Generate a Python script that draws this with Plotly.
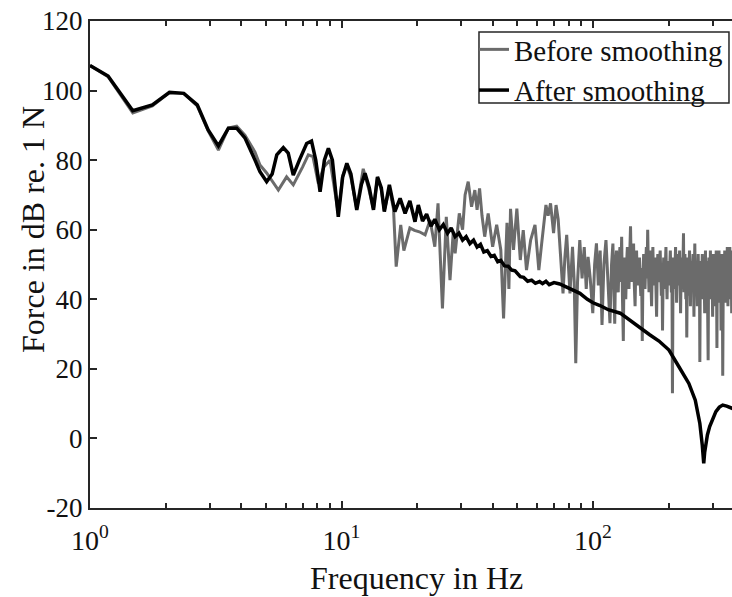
import plotly.graph_objects as go

# ---- data (frequency in Hz, level in dB re. 1 N) ----
before_f = [1.0, 1.18, 1.48, 1.77, 2.07, 2.36, 2.67, 2.95, 3.24, 3.55, 3.83, 4.13, 4.53, 4.74, 5.04,
            5.3, 5.61, 6.05, 6.43, 7.0, 7.38, 7.7, 8.09, 8.5, 9.0, 9.71, 10.1, 10.5, 10.9, 11.5, 12.2,
            12.8, 13.4, 13.9, 14.4, 14.8, 15.5, 16.1, 16.5, 17.2, 17.7, 18.7, 19.5, 20.4, 21.5, 22.5,
            23.5, 24.2, 25.2, 26.1, 27.0, 27.8, 28.3, 29.4, 30.3, 31.0, 31.9, 32.9, 33.9, 34.6, 35.4,
            36.2, 37.1, 38.3, 39.9, 41.4, 43.0, 44.1, 45.5, 46.3, 47.0, 48.3, 49.8, 51.4, 52.8, 54.4,
            56.5, 58.8, 60.9, 62.5, 64.0, 65.0, 66.3, 67.8, 69.7, 71.3, 72.7, 74.0, 76.0, 77.3, 78.6,
            81.0, 82.9, 84.2, 85.4, 86.8, 88.6, 90.5, 92.3, 94.0, 95.6, 97.5, 99.8, 101.5, 103.2, 105.0,
            106.8, 108.6, 110.5, 112.6, 114.5, 116.8, 118.5,
            120, 121, 122, 123, 124, 125, 126, 127, 128, 129,
            130, 131, 132, 133, 134, 135, 136, 137, 138, 139,
            140, 141, 142, 143, 144, 145, 146, 147, 148, 149,
            150, 151, 152, 153, 154, 155, 156, 157, 158, 159,
            160, 161, 162, 163, 164, 165, 166, 167, 168, 169,
            170, 171, 172, 173, 174, 175, 176, 177, 178, 179,
            180, 181, 182, 183, 184, 185, 186, 187, 188, 189,
            190, 191, 192, 193, 194, 195, 196, 197, 198, 199,
            200, 201, 202, 203, 204, 205, 206, 207, 208, 209,
            210, 211, 212, 213, 214, 215, 216, 217, 218, 219,
            220, 221, 222, 223, 224, 225, 226, 227, 228, 229,
            230, 231, 232, 233, 234, 235, 236, 237, 238, 239,
            240, 241, 242, 243, 244, 245, 246, 247, 248, 249,
            250, 251, 252, 253, 254, 255, 256, 257, 258, 259,
            260, 261, 262, 263, 264, 265, 266, 267, 268, 269,
            270, 271, 272, 273, 274, 275, 276, 277, 278, 279,
            280, 281, 282, 283, 284, 285, 286, 287, 288, 289,
            290, 291, 292, 293, 294, 295, 296, 297, 298, 299,
            300, 301, 302, 303, 304, 305, 306, 307, 308, 309,
            310, 311, 312, 313, 314, 315, 316, 317, 318, 319,
            320, 321, 322, 323, 324, 325, 326, 327, 328, 329,
            330, 331, 332, 333, 334, 335, 336, 337, 338, 339,
            340, 341, 342, 343, 344, 345, 346, 347, 348, 349,
            350, 351, 352, 353, 354, 355, 356, 357, 358, 359,
            360, 361, 362]
before_db = [107.2, 104.0, 93.6, 95.6, 99.4, 99.2, 95.6, 88.4, 82.9, 89.2, 89.8, 87.2, 82.3, 78.6, 76.3,
             74.0, 71.4, 75.2, 72.9, 78.0, 81.5, 81.0, 73.3, 78.0, 80.0, 64.7, 75.5, 78.5, 75.0, 66.0, 77.5,
             72.0, 66.0, 75.0, 71.5, 65.5, 72.0, 66.0, 49.4, 61.4, 54.0, 60.5, 59.8, 59.4, 58.5, 62.8,
             55.1, 67.6, 37.4, 63.7, 45.5, 59.0, 53.2, 64.7, 60.0, 70.0, 73.8, 66.6, 71.4, 65.7, 71.9,
             64.0, 58.0, 64.7, 55.1, 61.4, 54.2, 34.5, 62.0, 43.0, 66.0, 54.2, 66.1, 51.3, 59.9, 48.4,
             57.0, 61.4, 48.4, 56.0, 62.0, 67.1, 64.0, 67.6, 59.0, 67.1, 63.0, 55.0, 41.7, 52.0, 58.5,
             41.7, 55.1, 45.0, 21.6, 45.0, 57.0, 46.0, 55.0, 43.0, 52.2, 46.0, 36.0, 50.0, 56.1, 44.0,
             54.0, 32.6, 50.0, 57.0, 44.0, 33.1, 50.0,
             56, 44, 33, 50, 54, 47, 42, 52, 55, 45,
             58, 40, 28, 52, 46, 40, 50, 55, 47, 43,
             53, 61, 48, 45, 52, 56, 44, 38, 50, 54,
             46, 44, 51, 52, 45, 41, 49, 28, 47, 53,
             48, 43, 50, 55, 46, 60, 49, 42, 51, 54,
             45, 38, 49, 55, 47, 44, 50, 52, 43, 35,
             48, 53, 46, 45, 51, 54, 47, 41, 48, 31,
             46, 52, 47, 43, 50, 55, 46, 40, 49, 51,
             45, 44, 50, 54, 47, 42, 48, 13, 45, 52,
             48, 43, 50, 55, 46, 39, 48, 53, 47, 44,
             50, 54, 45, 36, 47, 52, 48, 43, 51, 59,
             42, 48, 53, 46, 40, 47, 29, 46, 52, 47,
             41, 49, 54, 46, 38, 47, 51, 48, 43, 50,
             53, 45, 35, 48, 56, 47, 42, 49, 50, 44,
             38, 47, 53, 46, 41, 48, 22, 45, 51, 46,
             40, 48, 53, 47, 43, 49, 50, 44, 36, 47,
             54, 46, 42, 49, 51, 45, 39, 22.5, 46, 52,
             47, 41, 49, 54, 46, 40, 48, 51, 44, 35,
             47, 53, 46, 43, 49, 52, 45, 38, 47, 54,
             44, 26, 47, 52, 46, 42, 49, 54, 45, 39,
             47, 52, 44, 31, 48, 53, 46, 42, 18, 45,
             52, 47, 41, 49, 54, 45, 39, 47, 52, 46,
             43, 50, 55, 46, 38, 48, 53, 47, 42, 50,
             55, 45, 40, 48, 54, 46, 36, 47, 52, 44,
             50, 42, 51]

after_f = [1.0, 1.18, 1.48, 1.77, 2.07, 2.36, 2.67, 2.95, 3.24, 3.55, 3.83, 4.13, 4.53, 4.74, 5.04,
           5.3, 5.53, 5.87, 6.14, 6.43, 6.8, 7.27, 7.6, 7.9, 8.22, 8.55, 8.87, 9.2, 9.71, 10.1, 10.5,
           10.9, 11.5, 12.0, 12.4, 12.9, 13.4, 13.9, 14.4, 14.8, 15.5, 16.3, 17.1, 17.9, 18.7, 19.6,
           20.2, 21.0, 21.8, 22.7, 23.5, 24.5, 25.4, 26.4, 27.3, 28.3, 29.3, 30.3, 31.3, 32.4, 33.5,
           34.6, 35.7, 36.8, 38.0, 39.3, 40.5, 41.8, 43.0, 44.5, 46.0, 47.5, 49.0, 51.4, 53.0, 55.0,
           57.0, 59.0, 61.3, 63.0, 65.0, 67.0, 70.0, 73.7, 77.0, 80.0, 84.0, 88.7, 95.0, 100.0, 106.6,
           115.0, 128.3, 140.0, 152.9, 168.0, 183.0, 200.5, 219.6, 240.5, 255.1, 266.0, 272.0, 275.6,
           278.0, 280.0, 285.0, 291.0, 300.0, 308.0, 318.0, 328.0, 340.0, 358.0, 362.0]
after_db = [107.2, 104.2, 94.2, 95.9, 99.5, 99.2, 95.9, 88.7, 84.1, 89.2, 89.2, 86.4, 80.0, 76.7, 73.8,
            76.0, 81.5, 83.6, 82.0, 75.7, 80.0, 84.8, 85.5, 80.0, 70.9, 80.0, 83.4, 80.0, 63.7, 75.0, 79.1,
            76.0, 65.7, 73.0, 76.2, 72.0, 65.7, 75.2, 72.0, 65.2, 72.9, 65.2, 69.0, 64.7, 68.3, 62.3,
            67.1, 62.5, 64.5, 61.0, 63.0, 60.0, 61.5, 59.0, 60.5, 58.0, 59.0, 57.0, 58.0, 56.0, 57.0,
            55.0, 55.8, 53.6, 54.0, 52.3, 52.6, 50.8, 51.2, 49.6, 49.5, 48.4, 48.2, 46.5, 46.3, 45.2,
            45.5, 44.6, 45.1, 44.5, 45.2, 44.2, 44.8, 44.4, 43.8, 43.3, 42.5, 41.7, 40.0, 39.0, 38.2,
            37.0, 36.0, 34.0, 31.7, 29.8, 28.0, 25.4, 20.6, 15.8, 11.0, 4.3, -2.0, -7.2,
            -4.0, -2.4, 1.0, 3.4, 6.0, 7.7, 9.0, 9.6, 9.3, 8.6, 8.5]

x_tickvals = [1, 10, 100]
x_ticktext = ["10<sup>0</sup>", "10<sup>1</sup>", "10<sup>2</sup>"]
y_tickvals = [-20, 0, 20, 40, 60, 80, 100, 120]
y_ticktext = ["-20", "0", "20", "40", "60", "80", "100", "120"]

FONT = "Liberation Serif"
AX = "#262626"

fig = go.Figure()
fig.add_trace(go.Scatter(x=before_f, y=before_db, mode="lines", name="Before smoothing",
                         line=dict(color="#6b6b6b", width=3)))
fig.add_trace(go.Scatter(x=after_f, y=after_db, mode="lines", name="After smoothing",
                         line=dict(color="#000000", width=3.5)))

fig.update_layout(
    width=732, height=597,
    margin=dict(l=90, r=0, t=21, b=89),
    paper_bgcolor="white", plot_bgcolor="white",
    font=dict(family=FONT, size=27, color="#111111"),
    showlegend=True,
    legend=dict(x=0.5981, xanchor="left", y=0.9938, yanchor="top",
                bgcolor="rgba(0,0,0,0)", borderwidth=0,
                font=dict(family=FONT, size=29), tracegroupgap=0,
                itemwidth=30),
    shapes=[
        dict(type="rect", xref="paper", yref="paper", x0=0.6059, x1=0.9953, y0=0.8316, y1=0.9774,
             fillcolor="white", line=dict(color=AX, width=1.5), layer="above"),
    ],
    annotations=[
        dict(text="Frequency in Hz", xref="paper", yref="paper", x=0.508, y=-0.1437,
             xanchor="center", yanchor="middle", showarrow=False,
             font=dict(family=FONT, size=32, color="#111111")),
        dict(text="Force in dB re. 1 N", xref="paper", yref="paper", x=-0.0888, y=0.573,
             xanchor="center", yanchor="middle", showarrow=False, textangle=-90,
             font=dict(family=FONT, size=32, color="#111111")),
    ],
)
fig.update_xaxes(
    type="log", range=[0, 2.5527],
    tickvals=x_tickvals, ticktext=x_ticktext,
    ticks="inside", ticklen=7, tickwidth=1.5, tickcolor=AX,
    showline=True, linecolor=AX, linewidth=2, mirror="ticks",
    showgrid=False, zeroline=False,
    tickfont=dict(family=FONT, size=28),
    ticklabelstandoff=6,
    minor=dict(ticks="inside", ticklen=5, tickwidth=1.5, tickcolor=AX, dtick="D1", showgrid=False),
)
fig.update_yaxes(
    range=[-20, 120],
    tickvals=y_tickvals, ticktext=y_ticktext,
    ticks="inside", ticklen=7, tickwidth=1.5, tickcolor=AX,
    showline=True, linecolor=AX, linewidth=2, mirror=False,
    showgrid=False, zeroline=False,
    tickfont=dict(family=FONT, size=27),
)

fig.write_html("out.html")
